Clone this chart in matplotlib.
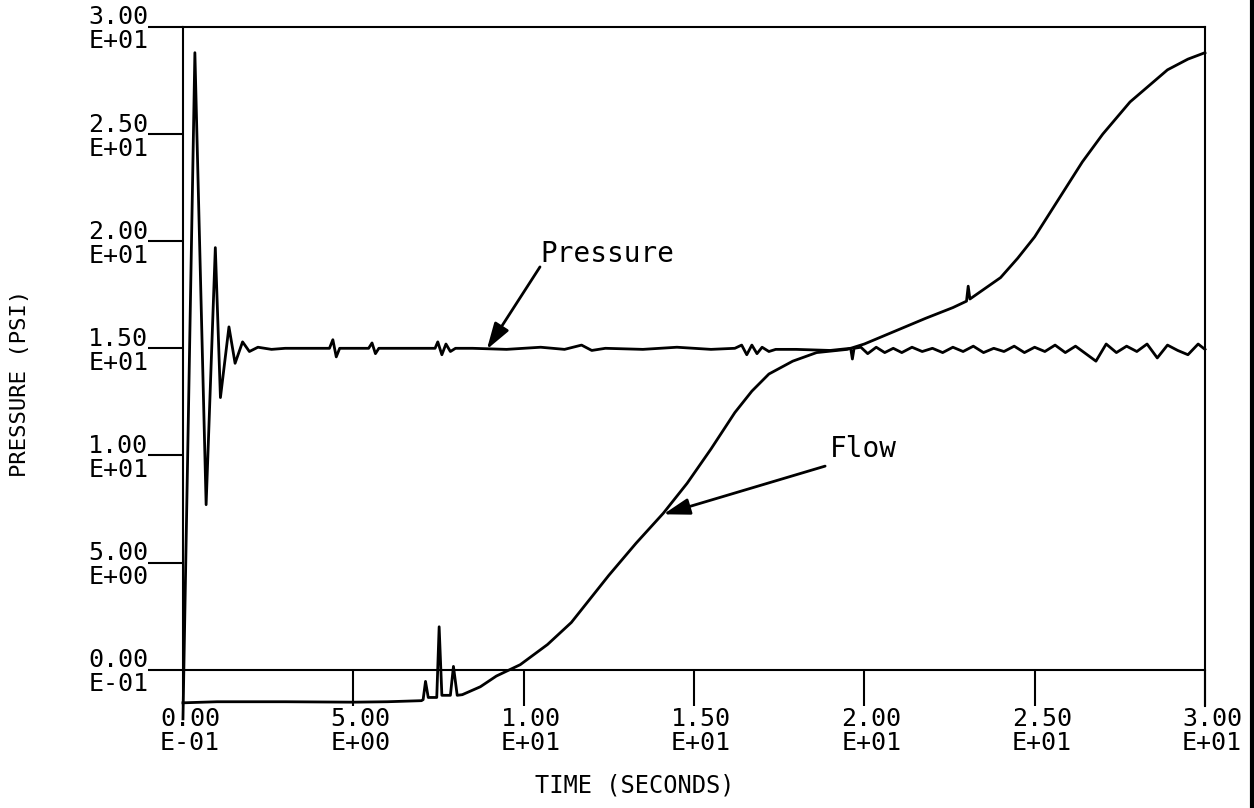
import matplotlib
matplotlib.use('Agg')
import matplotlib.pyplot as plt
from matplotlib.lines import Line2D
from matplotlib.transforms import ScaledTranslation

# pressure trace (time in s, psi)
pressureTime = [0.0, 0.35, 0.68, 0.95, 1.1, 1.35, 1.53, 1.75, 1.95, 2.2, 2.6, 3.0, 3.6,
                4.3, 4.4, 4.5, 4.6, 5.0, 5.45, 5.55, 5.65, 5.75, 6.5, 7.4, 7.48, 7.6, 7.72,
                7.85, 8.0, 8.5, 9.5, 10.5, 11.2, 11.7, 12.0, 12.4, 13.5, 14.5, 15.5, 16.2,
                16.4, 16.55, 16.7, 16.85, 17.0, 17.2, 17.4, 18.0, 19.0, 19.6, 19.65, 19.7,
                19.9, 20.1, 20.35, 20.6, 20.85, 21.1, 21.4, 21.7, 22.0, 22.3, 22.6, 22.9,
                23.2, 23.5, 23.8, 24.1, 24.4, 24.7, 25.0, 25.3, 25.6, 25.9, 26.2, 26.5,
                26.8, 27.1, 27.4, 27.7, 28.0, 28.3, 28.6, 28.9, 29.2, 29.5, 29.8, 30.0]
pressureValue = [-2.3, 28.8, 7.7, 19.7, 12.7, 16.0, 14.3, 15.3, 14.85, 15.05, 14.95, 15.0, 15.0,
                 15.0, 15.4, 14.6, 15.0, 15.0, 15.0, 15.25, 14.75, 15.0, 15.0, 15.0, 15.3, 14.7, 15.2,
                 14.85, 15.0, 15.0, 14.95, 15.05, 14.95, 15.15, 14.9, 15.0, 14.95, 15.05, 14.95, 15.0,
                 15.15, 14.7, 15.15, 14.75, 15.05, 14.85, 14.95, 14.95, 14.9, 15.0, 14.5, 15.0,
                 15.05, 14.75, 15.05, 14.8, 15.0, 14.8, 15.05, 14.85, 15.0, 14.8, 15.05, 14.85,
                 15.1, 14.8, 15.0, 14.85, 15.1, 14.8, 15.05, 14.85, 15.15, 14.8, 15.1, 14.75,
                 14.4, 15.2, 14.8, 15.1, 14.85, 15.2, 14.55, 15.15, 14.9, 14.7, 15.2, 14.95]

# flow trace
flowTime = [0.0, 1.0, 3.0, 5.0, 6.0, 7.0, 7.05, 7.12, 7.2, 7.45, 7.52, 7.6, 7.85, 7.94,
            8.05, 8.2, 8.73, 9.2, 9.9, 10.7, 11.4, 11.9, 12.5, 13.3, 14.1, 14.8, 15.5,
            16.2, 16.7, 17.2, 17.9, 18.6, 19.5, 20.0, 20.9, 21.8, 22.6, 23.0, 23.05, 23.1,
            24.0, 24.5, 25.0, 25.6, 26.4, 27.0, 27.8, 28.9, 29.5, 30.0]
flowValue = [-1.55, -1.5, -1.5, -1.52, -1.5, -1.45, -1.4, -0.55, -1.3, -1.3, 2.0, -1.2, -1.2, 0.15,
             -1.2, -1.17, -0.8, -0.3, 0.23, 1.17, 2.2, 3.2, 4.4, 5.9, 7.3, 8.7, 10.3,
             12.0, 13.0, 13.8, 14.4, 14.8, 14.95, 15.2, 15.8, 16.4, 16.9, 17.2, 17.9, 17.3,
             18.3, 19.2, 20.2, 21.7, 23.7, 25.0, 26.5, 28.0, 28.5, 28.8]

xTicks = [0, 5, 10, 15, 20, 25, 30]
xTickLabels = ['0.00\nE-01', '5.00\nE+00', '1.00\nE+01', '1.50\nE+01', '2.00\nE+01', '2.50\nE+01', '3.00\nE+01']
yTicks = [0, 5, 10, 15, 20, 25, 30]
yTickLabels = ['0.00\nE-01', '5.00\nE+00', '1.00\nE+01', '1.50\nE+01', '2.00\nE+01', '2.50\nE+01', '3.00\nE+01']

mono = 'DejaVu Sans Mono'

fig = plt.figure(figsize=(12.54, 8.08), dpi=100)
ax = fig.add_axes([0.1459, 0.1262, 0.815, 0.8404])
ax.set_xlim(0, 30)
ax.set_ylim(-1.7, 30)

ax.plot(pressureTime, pressureValue, color='black', linewidth=2.0, clip_on=False,
        solid_joinstyle='round')
ax.plot(flowTime, flowValue, color='black', linewidth=2.0, clip_on=False,
        solid_joinstyle='round')

# plotter style frame
ax.spines['bottom'].set_position(('data', 0))
ax.spines['left'].set_bounds(0, 30)
for s in ax.spines.values():
    s.set_linewidth(1.5)

ax.set_xticks(xTicks)
ax.set_xticklabels(xTickLabels)
ax.set_yticks(yTicks)
ax.set_yticklabels(yTickLabels)
ax.tick_params(axis='x', direction='out', length=26, width=1.5, pad=1, labelsize=18)
ax.tick_params(axis='y', direction='out', length=25, width=1.5, pad=0, labelsize=18)
shift = ScaledTranslation(7 / 100, 0, fig.dpi_scale_trans)
for lab in ax.get_xticklabels():
    lab.set_family(mono)
    lab.set_linespacing(1.0)
    lab.set_multialignment('left')
    lab.set_transform(lab.get_transform() + shift)
for lab in ax.get_yticklabels():
    lab.set_family(mono)
    lab.set_linespacing(1.0)
    lab.set_multialignment('left')

arrow = dict(arrowstyle='-|>,head_length=0.8,head_width=0.25', color='black',
             linewidth=2.0, mutation_scale=20, shrinkA=0, shrinkB=0)
ax.annotate('', xy=(8.92, 14.95), xytext=(10.48, 18.8), arrowprops=arrow)
ax.text(10.5, 19.4, 'Pressure', fontsize=20, family=mono, ha='left', va='center')
ax.annotate('', xy=(14.1, 7.25), xytext=(18.85, 9.5), arrowprops=arrow)
ax.text(19.0, 10.3, 'Flow', fontsize=20, family=mono, ha='left', va='center')

fig.text(635 / 1254, 1 - 785 / 808, 'TIME (SECONDS)', fontsize=17, family=mono,
         ha='center', va='center')
fig.text(20 / 1254, 1 - 383 / 808, 'PRESSURE (PSI)', fontsize=16, family=mono,
         ha='center', va='center', rotation=90)

# edge of the scanned page
fig.add_artist(Line2D([0.9985, 0.9985], [0, 1], transform=fig.transFigure,
                      color='black', linewidth=3))

fig.savefig('out.png', dpi=100)
